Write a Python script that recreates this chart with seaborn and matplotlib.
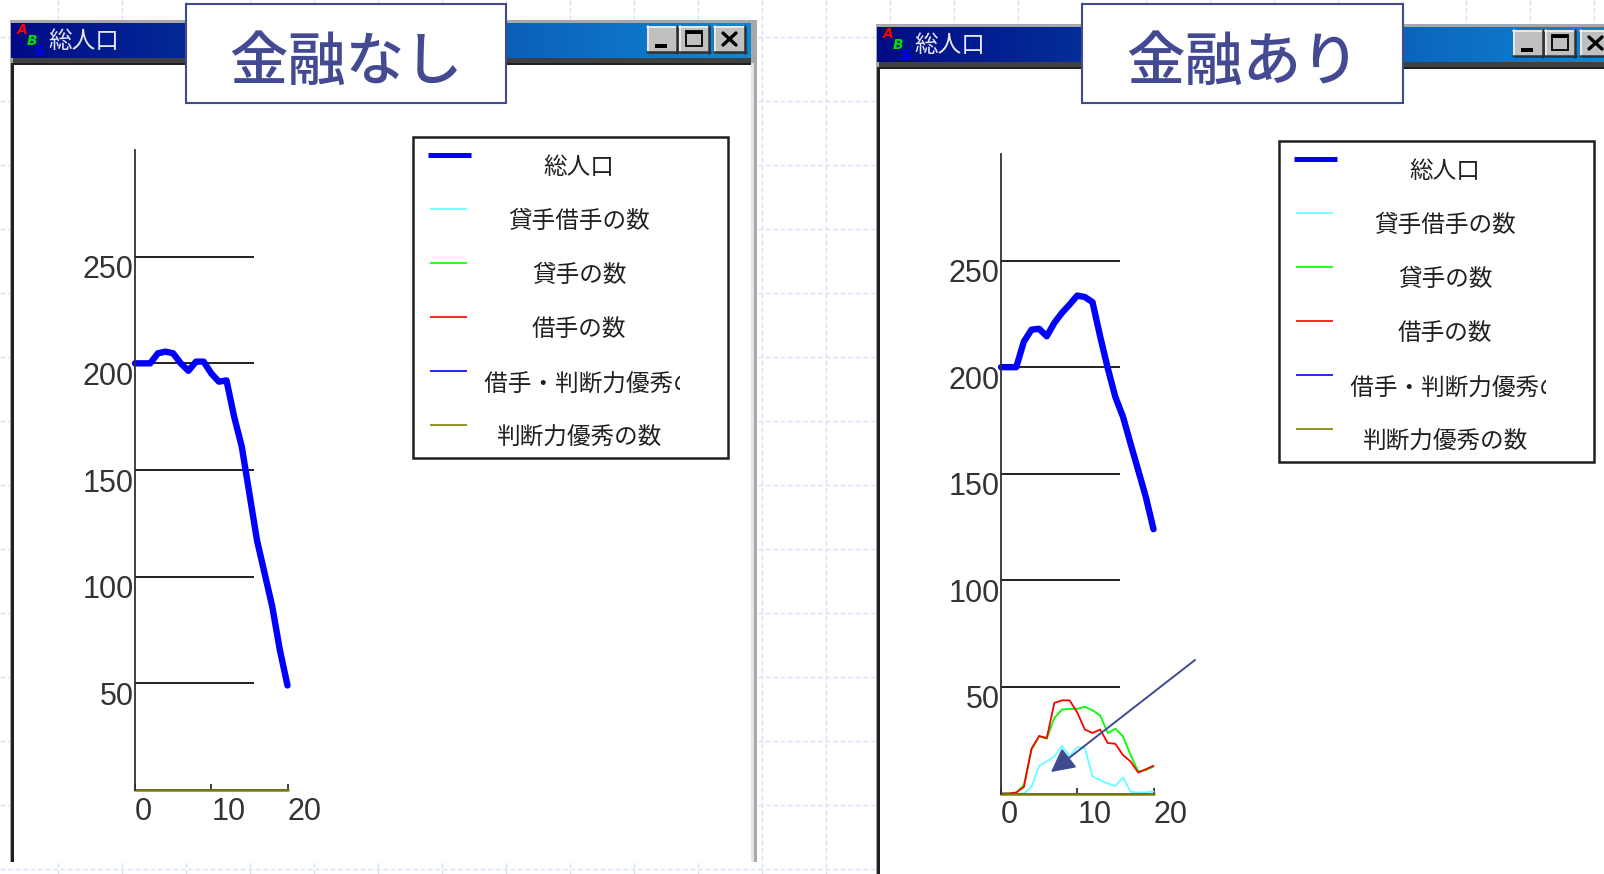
import numpy as np
import pandas as pd
import seaborn as sns
import matplotlib.pyplot as plt
from matplotlib.colors import LinearSegmentedColormap
from matplotlib.patches import Rectangle
from matplotlib.transforms import ScaledTranslation

sns.set_theme(style="white")
plt.rcParams['font.family'] = ['Noto Sans CJK JP', 'DejaVu Sans']

# Data
steps = list(range(21))
y_ticks = [50, 100, 150, 200, 250]
x_ticks = [0, 10, 20]
legend_names = ["総人口", "貸手借手の数", "貸手の数", "借手の数", "貸手借手・判断力優秀の数", "判断力優秀の数"]
legend_colors = ["#0000ff", "#66ffff", "#00ff00", "#ff0000", "#0000ff", "#808000"]

pop_nashi = [200, 200, 200, 204.7, 205.5, 204.7, 200, 196.5, 200.8, 200.8, 195.3,
             191.4, 192, 175, 161, 139, 117, 101.5, 86, 65.6, 49]
pop_ari = [200, 200, 200, 212, 217.6, 218, 214.5, 220.8, 225.5, 229.4, 233.6,
           232.9, 230.5, 214.5, 199.5, 186, 176.7, 164, 151.6, 139, 124]
both_ari = [0, 0, 0, 0, 3, 13, 15, 17.4, 22.4, 17.4, 21.8,
            21.3, 8, 6.3, 4.7, 3.5, 7.6, 0.8, 0.5, 0.5, 1]
lend_ari = [0, 0, 0.3, 4, 20.5, 26.8, 25.7, 35.5, 39.4, 39.7, 39.7,
            40.7, 39, 36.6, 28.4, 30.4, 26.8, 18, 10.3, 11, 12.6]
borrow_ari = [0, 0, 0.5, 3, 21, 27, 26, 42.5, 43.7, 43.7, 38,
              30, 28.4, 30, 23.7, 23.3, 18, 15, 9.8, 11.4, 13]
zeros = [0] * 21

W, H = 1604, 874
INK = "#3f4a8f"
fig = plt.figure(figsize=(W / 100, H / 100), dpi=100, facecolor="white")


def px_axes(zorder):
    ax = fig.add_axes([0, 0, 1, 1], zorder=zorder)
    ax.set_xlim(0, W)
    ax.set_ylim(H, 0)
    ax.axis("off")
    ax.patch.set_alpha(0)
    return ax


back = px_axes(0)
front = px_axes(5)

# faint dashed page grid
for gx in range(58, W, 64):
    back.plot([gx, gx], [0, H], color="#d5defa", lw=0.9, ls=(0, (4, 2)), zorder=1)
for gy in range(37, H, 64):
    back.plot([0, W], [gy, gy], color="#d5defa", lw=0.9, ls=(0, (4, 2)), zorder=1)


def button(x, y, w, h, kind):
    back.add_patch(Rectangle((x, y), w, h, fc="#c0c0c0", ec="none", zorder=8))
    back.plot([x, x + w], [y + 1, y + 1], color="#f0f0f0", lw=1.2, zorder=9)
    back.plot([x + 1, x + 1], [y, y + h], color="#f0f0f0", lw=1.2, zorder=9)
    back.plot([x, x + w], [y + h - 1, y + h - 1], color="#303030", lw=1.8, zorder=9)
    back.plot([x + w - 1, x + w - 1], [y, y + h], color="#303030", lw=1.8, zorder=9)
    if kind == "min":
        back.add_patch(Rectangle((x + 8, y + h - 9), 12, 4, fc="black", ec="none", zorder=9))
    elif kind == "max":
        back.add_patch(Rectangle((x + 7, y + 5), w - 15, h - 12, fc="none", ec="black", lw=1.3, zorder=9))
        back.add_patch(Rectangle((x + 7, y + 5), w - 15, 3, fc="black", ec="none", zorder=9))
    else:
        back.plot([x + 9, x + w - 10], [y + 7, y + h - 8], color="black", lw=2.4, zorder=9)
        back.plot([x + 9, x + w - 10], [y + h - 8, y + 7], color="black", lw=2.4, zorder=9)


def window(dx, dy, bottom):
    left, right = 10 + dx, 757 + dx
    back.add_patch(Rectangle((left, 20 + dy), right - left, bottom - 20 - dy, fc="#a8a8a8", ec="none", zorder=2))
    grad = np.linspace(0, 1, 256).reshape(1, -1)
    cmap = LinearSegmentedColormap.from_list("bar", ["#000c85", "#1088d2"])
    back.imshow(grad, cmap=cmap, extent=(left + 1, right - 6, 58 + dy, 23 + dy), aspect="auto", zorder=3)
    back.set_xlim(0, W)
    back.set_ylim(H, 0)
    back.add_patch(Rectangle((left + 3, 58 + dy), right - left - 9, 5, fc="#404040", ec="none", zorder=3))
    back.add_patch(Rectangle((left + 1, 63 + dy), right - left - 6, bottom - 63 - dy, fc="#202020", ec="none", zorder=3))
    back.add_patch(Rectangle((left + 4, 65 + dy), right - left - 10, bottom - 65 - dy, fc="white", ec="none", zorder=4))
    back.add_patch(Rectangle((right - 6, 63 + dy), 3, bottom - 63 - dy, fc="#e4e4e4", ec="none", zorder=4))
    back.text(84 + dx, 41 + dy, "総人口", color="#e8e8f0", fontsize=17, ha="center", va="center", zorder=5)
    back.text(22 + dx, 30 + dy, "A", color="#ff0000", fontsize=10, fontweight="bold", style="italic",
              family="DejaVu Sans", ha="center", va="center", zorder=5)
    back.text(32 + dx, 41 + dy, "B", color="#00e000", fontsize=10, fontweight="bold", style="italic",
              family="DejaVu Sans", ha="center", va="center", zorder=5)
    back.text(40 + dx, 52 + dy, "S", color="#0000ff", fontsize=10, fontweight="bold", style="italic",
              family="DejaVu Sans", ha="center", va="center", zorder=5)
    return left, right


def legend_block(dx, dy):
    back.add_patch(Rectangle((413 + dx, 137 + dy), 315, 321, fc="white", ec="#202020", lw=1.8, zorder=6))
    clip = Rectangle((483 + dx, 137 + dy), 197, 321, transform=back.transData)
    for i, (name, col) in enumerate(zip(legend_names, legend_colors)):
        hy = 155 + 54 * i + dy
        if i == 0:
            back.plot([428 + dx, 471 + dx], [hy, hy], color=col, lw=3.6, solid_capstyle="butt", zorder=7)
        else:
            back.plot([430 + dx, 467 + dx], [hy, hy], color=col, lw=1.2, solid_capstyle="butt", zorder=7)
        t = back.text(579 + dx, hy + 13, name, color="#202020", fontsize=17, ha="center", va="center", zorder=7)
        t.set_clip_path(clip)
        t.set_clip_on(True)


def panel(x0, ytop, ybottom, series):
    ax = fig.add_axes([x0 / W, 1 - ybottom / H, 152.5 / W, (ybottom - ytop) / H], zorder=3)
    ax.patch.set_alpha(0)
    for vals, col, lw in series:
        df = pd.DataFrame({"t": steps, "n": vals})
        sns.lineplot(data=df, x="t", y="n", color=col, linewidth=lw, ax=ax, clip_on=False,
                     errorbar=None, solid_joinstyle="round")
    ax.hlines(y_ticks, 0, 15.6, color="#202020", lw=1.4, zorder=1)
    ax.set_xlim(0, 20)
    ax.set_ylim(0, 300)
    ax.set_xlabel("")
    ax.set_ylabel("")
    ax.set_xticks(x_ticks)
    ax.set_yticks(y_ticks)
    ax.set_xticklabels([str(v) for v in x_ticks], ha="left", fontsize=22, color="#333333",
                       family="Liberation Sans")
    ax.set_yticklabels([str(v) for v in y_ticks], fontsize=22, color="#333333",
                       family="Liberation Sans")
    ax.tick_params(axis="x", direction="in", length=4, width=1.2, color="#202020", pad=5, bottom=True)
    ax.tick_params(axis="y", length=0, pad=1, left=False)
    nudge = ScaledTranslation(0, -10 / 100, fig.dpi_scale_trans)
    for lab in ax.get_yticklabels():
        lab.set_transform(lab.get_transform() + nudge)
    for s in ["top", "right", "bottom"]:
        ax.spines[s].set_visible(False)
    ax.spines["left"].set_color("#303030")
    ax.spines["left"].set_linewidth(1.3)
    return ax


def title_box(x, w, label):
    front.add_patch(Rectangle((x, 4), w, 99, fc="white", ec=INK, lw=1.5))
    front.text(x + w / 2, 63, label, color="#434a92", fontsize=42, fontweight="medium", ha="center", va="center")


window(0, 0, 862)
button(647, 26, 31, 27, "min")
button(679, 26, 31, 27, "max")
button(714, 26, 32, 27, "close")
window(866, 4, H + 5)
button(1513, 30, 31, 27, "min")
button(1545, 30, 31, 27, "max")
button(1580, 30, 32, 27, "close")
back.set_xlim(0, W)
back.set_ylim(H, 0)

legend_block(0, 0)
legend_block(866, 4)

panel(135, 150, 790, [
    (zeros, "#66ffff", 1.2), (zeros, "#00ff00", 1.2), (zeros, "#ff0000", 1.2), (zeros, "#0000ff", 1.2),
    (zeros, "#808000", 1.8), (pop_nashi, "#0000ff", 4.6)])
panel(1001, 154, 793.5, [
    (both_ari, "#66ffff", 1.3), (lend_ari, "#00ff00", 1.3), (borrow_ari, "#ff0000", 1.3), (zeros, "#0000ff", 1.2),
    (zeros, "#808000", 1.8), (pop_ari, "#0000ff", 4.6)])

title_box(186, 320, "金融なし")
title_box(1082, 321, "金融あり")

front.annotate("", xy=(1051, 772), xytext=(1195, 660),
               arrowprops=dict(arrowstyle="-|>,head_length=0.96,head_width=0.5", color=INK, lw=1.4,
                               shrinkA=0, shrinkB=0, mutation_scale=15))

fig.savefig("out.png", dpi=100)
